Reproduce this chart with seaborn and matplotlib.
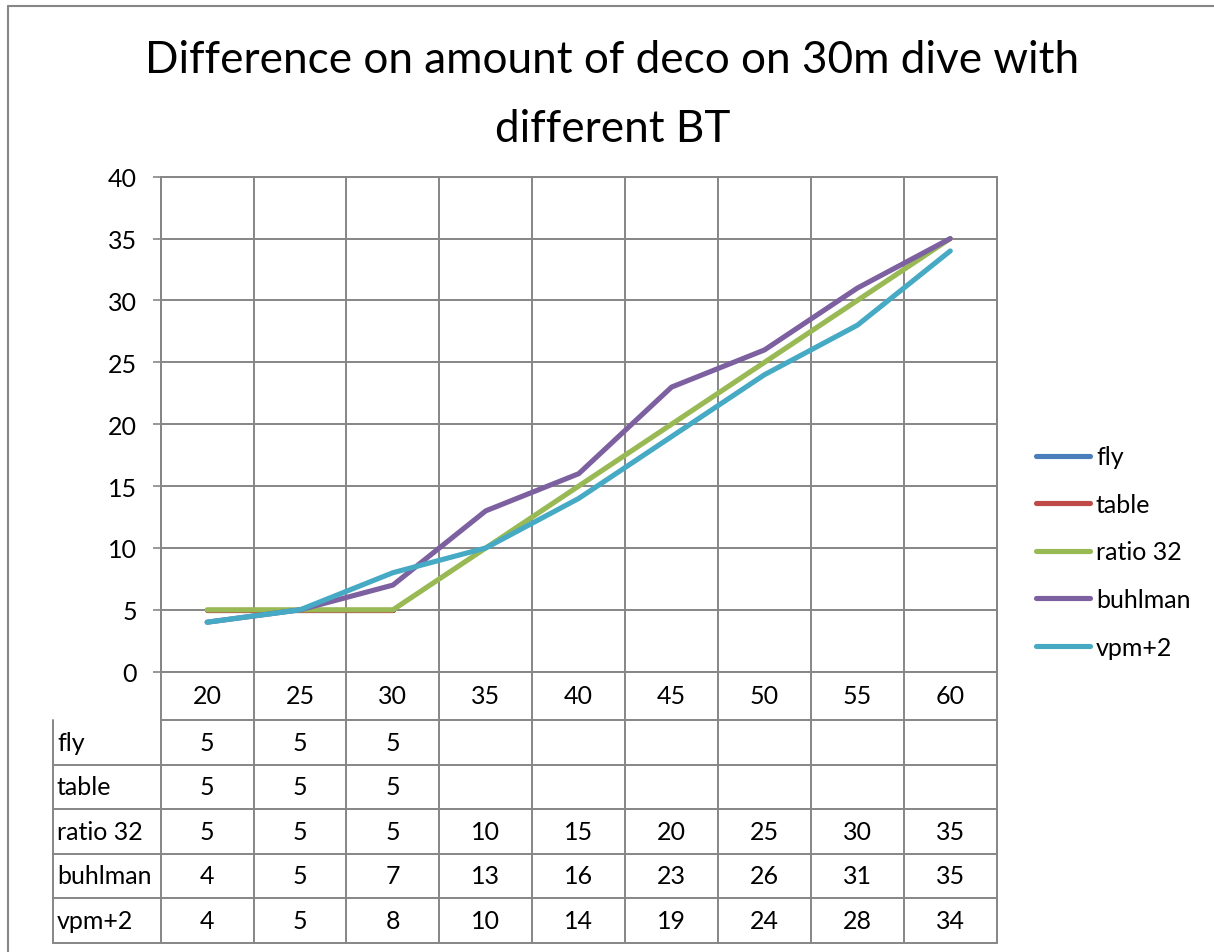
"""
Deco time vs bottom time at 30m, Excel-style line chart with data table.
"""

import numpy as np
import pandas as pd
import matplotlib.pyplot as plt
import seaborn as sns
from matplotlib.lines import Line2D
from matplotlib.transforms import blended_transform_factory

bottom_time = [20, 25, 30, 35, 40, 45, 50, 55, 60]
series_names = ["fly", "table", "ratio 32", "buhlman", "vpm+2"]
fly = [5, 5, 5, np.nan, np.nan, np.nan, np.nan, np.nan, np.nan]
table = [5, 5, 5, np.nan, np.nan, np.nan, np.nan, np.nan, np.nan]
ratio_32 = [5, 5, 5, 10, 15, 20, 25, 30, 35]
buhlman = [4, 5, 7, 13, 16, 23, 26, 31, 35]
vpm_2 = [4, 5, 8, 10, 14, 19, 24, 28, 34]
y_ticks = [0, 5, 10, 15, 20, 25, 30, 35, 40]

colors = ["#4A7EBB", "#BE4B48", "#98B954", "#7D60A0", "#46AAC5"]
grid_color = "#868686"
title_lines = ["Difference on amount of deco on 30m dive with", "different BT"]
FS = 18

sns.set_theme(style="white")
plt.rcParams['font.family'] = ['Lato', 'DejaVu Sans']
plt.rcParams['text.color'] = 'black'
plt.rcParams['ytick.labelcolor'] = 'black'

all_values = [fly, table, ratio_32, buhlman, vpm_2]
rows = []
for name, values in zip(series_names, all_values):
    for i, v in enumerate(values):
        if not np.isnan(v):
            rows.append({"pos": i, "deco": v, "model": name})
df = pd.DataFrame(rows)

W, H = 1214, 953
fig = plt.figure(figsize=(W / 100, H / 100), dpi=100)
fig.patch.set_facecolor("white")

# plot area in pixels: x 160.7..996.7, y 177.7..672.7
ax = fig.add_axes([160.7 / W, 1 - 672.7 / H, 836 / W, 495 / H])
n = len(bottom_time)
ax.set_xlim(-0.5, n - 0.5)
ax.set_ylim(0, 40)

# horizontal gridlines
for t in y_ticks:
    ax.axhline(t, color=grid_color, lw=1.4, zorder=1)

sns.lineplot(data=df, x="pos", y="deco", hue="model", hue_order=series_names,
             palette=colors, linewidth=3.7, legend=False, sort=False, ax=ax,
             solid_capstyle="round", solid_joinstyle="round", zorder=3)

ax.set_yticks(y_ticks)
ax.set_yticklabels([str(t) for t in y_ticks], fontsize=FS, color="black")
ax.tick_params(axis="y", direction="out", length=6, width=1.2, color=grid_color,
               pad=11, left=True)
ax.set_xticks([])
ax.set_xlabel("")
ax.set_ylabel("")
for s in ax.spines.values():
    s.set_color(grid_color)
    s.set_linewidth(1.4)

# data table under the plot (x in data units, y in axes fraction)
trans = blended_transform_factory(ax.transData, ax.transAxes)
px = 495.0
row_edges_px = [672.7, 721, 766, 810, 855, 899, 944]
row_edges = [-(r - 672.7) / px for r in row_edges_px]
label_left = -0.5 - 108 / (836 / n)
table_bottom = row_edges[-1]

for k in range(n + 1):
    ax.plot([k - 0.5, k - 0.5], [table_bottom, 1], color=grid_color, lw=1.4,
            transform=trans, clip_on=False, zorder=1)
ax.plot([label_left, label_left], [table_bottom, row_edges[1]], color=grid_color,
        lw=1.4, transform=trans, clip_on=False)
ax.plot([-0.5, n - 0.5], [row_edges[1], row_edges[1]], color=grid_color, lw=1.4,
        transform=trans, clip_on=False)
for r in row_edges[2:]:
    ax.plot([label_left, n - 0.5], [r, r], color=grid_color, lw=1.4,
            transform=trans, clip_on=False)

# header row with bottom times
hdr_y = (row_edges[0] + row_edges[1]) / 2
for i, bt in enumerate(bottom_time):
    ax.text(i, hdr_y, str(bt), transform=trans, ha="center", va="center",
            fontsize=FS, color="black")

for j, (name, values) in enumerate(zip(series_names, all_values)):
    cy = (row_edges[j + 1] + row_edges[j + 2]) / 2
    ax.text(label_left + 0.045, cy, name, transform=trans, ha="left", va="center",
            fontsize=FS, color="black")
    for i, v in enumerate(values):
        if not np.isnan(v):
            ax.text(i, cy, f"{v:g}", transform=trans, ha="center", va="center",
                    fontsize=FS, color="black")

# legend
handles = [Line2D([], [], color=c, lw=3.7, solid_capstyle="round") for c in colors]
fig.legend(handles, series_names, loc="center left",
           bbox_to_anchor=(1036 / W, 1 - 553 / H), bbox_transform=fig.transFigure,
           frameon=False, fontsize=FS, handlelength=2.16, handletextpad=0.24,
           labelspacing=0.98, borderpad=0, borderaxespad=0, labelcolor="black")

# title
fig.text(612.5 / W, 1 - 73 / H, title_lines[0], ha="center", va="baseline",
         fontsize=31.8, color="black")
fig.text(612.5 / W, 1 - 142 / H, title_lines[1], ha="center", va="baseline",
         fontsize=31.8, color="black")

# chart frame (only left and top edges visible)
fig.add_artist(Line2D([8 / W, 8 / W], [0, 1 - 7 / H], color=grid_color, lw=1.5))
fig.add_artist(Line2D([8 / W, 1], [1 - 7 / H, 1 - 7 / H], color=grid_color, lw=1.5))

plt.savefig("out.png", dpi=100, facecolor="white")
